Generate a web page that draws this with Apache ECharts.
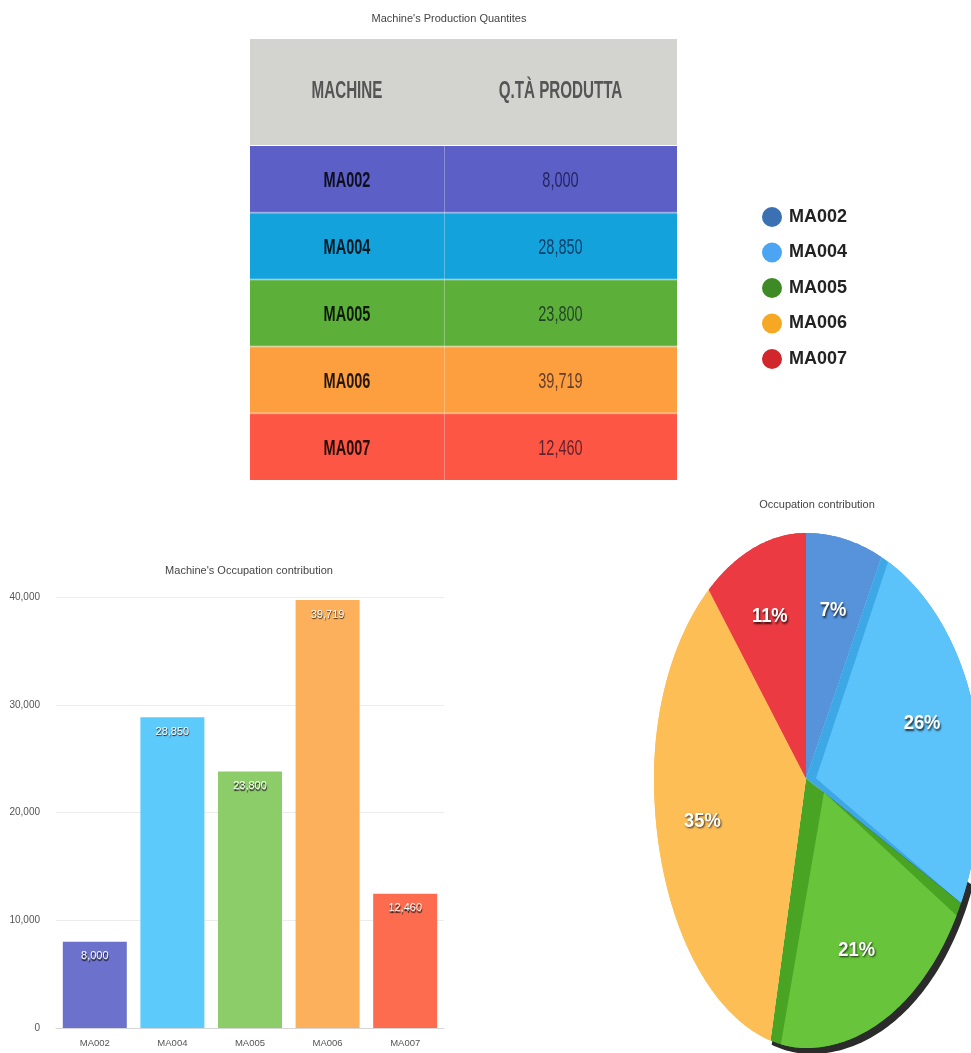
<!DOCTYPE html>
<html><head><meta charset="utf-8">
<script src="https://cdn.jsdelivr.net/npm/echarts@6/dist/echarts.min.js"></script>
<style>html,body{margin:0;padding:0;background:#fff;overflow:hidden}#c{width:971px;height:1053px}</style>
</head><body><div id="c"></div>
<script>
// ---------- data ----------
const machines = ['MA002', 'MA004', 'MA005', 'MA006', 'MA007'];
const quantities = [8000, 28850, 23800, 39719, 12460];
const tableHeaders = ['MACHINE', 'Q.TÀ PRODUTTA'];
const yTicks = [0, 10000, 20000, 30000, 40000];
const tableTitle = "Machine's Production Quantites";
const barTitle = "Machine's Occupation contribution";
const pieTitle = 'Occupation contribution';

// ---------- styles ----------
const tableRowColors = ['#5b5fc6', '#14a2dc', '#5cb03a', '#fd9e3f', '#fd5644'];
const barColors = ['#6c72cc', '#5dcafc', '#8dcd69', '#fdb05b', '#fd6c4e'];
const pieFace = ['#5793da', '#5cc3fa', '#68c43b', '#fdbe55', '#eb3a42'];
const pieSide = ['#5793da', '#3ea8e6', '#4aa424', '#fdbe55', '#eb3a42'];
const legendColors = ['#3b70b2', '#4ba5f2', '#3e8b26', '#f6a824', '#d1262b'];
const FONT = "'Liberation Sans',Arial,Helvetica,sans-serif";
const TABLE_SCALE_X = 0.66;
const colEdges = [0, 0.4543, 1];
const PIE = { rxRight: 1.15, ryBottom: 1.1, labelR: 0.7, step: Math.PI / 180, left: 654, top: 533, width: 317, height: 515, pxPerUnitX: 152 };
const sliceFaceShift = [[0, 0], [10, 0], [18, 14], [0, 0], [0, 0]];
const sliceInset = [[0, 0], [2.5, 0], [3, 4], [0, 0], [0, 0]];
const RIM = { from: 112, to: 195, dx: 5, dy: 6 };

const fmt = v => v.toLocaleString('en-US');
const total = quantities.reduce((a, b) => a + b, 0);
const cumStart = quantities.map((v, i) => quantities.slice(0, i).reduce((a, b) => a + b, 0));

function ellPt(t, r) {
  const s = Math.sin(t), c = Math.cos(t);
  return [r * s * (s > 0 ? PIE.rxRight : 1), r * c * (c > 0 ? 1 : PIE.ryBottom)];
}
function arcPts(api, a0, a1, dx, dy) {
  const pts = [];
  const n = Math.max(2, Math.ceil((a1 - a0) / PIE.step));
  for (let k = 0; k <= n; k++) {
    const p = api.coord(ellPt(a0 + (a1 - a0) * k / n, 1));
    pts.push([p[0] + (dx || 0), p[1] + (dy || 0)]);
  }
  return pts;
}
function renderSlice(params, api) {
  const i = api.value(0);
  const a0 = cumStart[i] / total * 2 * Math.PI;
  const a1 = (cumStart[i] + quantities[i]) / total * 2 * Math.PI;
  const c = api.coord([0, 0]);
  const sh = sliceFaceShift[i], ins = sliceInset[i];
  const side = [c].concat(arcPts(api, a0, a1));
  const face = [[c[0] + sh[0], c[1] + sh[1]]].concat(arcPts(api, a0 + ins[0] * Math.PI / 180, a1 - ins[1] * Math.PI / 180));
  const lp = api.coord(ellPt((a0 + a1) / 2, PIE.labelR));
  return { type: 'group', children: [
    { type: 'polygon', shape: { points: side }, style: { fill: pieSide[i] } },
    { type: 'polygon', shape: { points: face }, style: { fill: pieFace[i] } },
    { type: 'text', x: lp[0], y: lp[1], scaleX: 0.92, style: {
      text: Math.round(quantities[i] / total * 100) + '%', fill: '#fff',
      font: 'bold 20px ' + FONT,
      align: 'center', verticalAlign: 'middle', textAlign: 'center', textVerticalAlign: 'middle',
      textShadowColor: 'rgba(0,0,0,0.75)', textShadowBlur: 2, textShadowOffsetX: 1, textShadowOffsetY: 1.5 } }
  ] };
}
function renderRim(params, api) {
  const c = api.coord([0, 0]);
  const pts = [[c[0] + RIM.dx, c[1] + RIM.dy]].concat(arcPts(api, RIM.from * Math.PI / 180, RIM.to * Math.PI / 180, RIM.dx, RIM.dy));
  return { type: 'polygon', shape: { points: pts }, style: { fill: '#2b2b2b' } };
}
function cellBox(api) {
  const col = api.value(0), row = api.value(1);
  const yc = api.coord([0, row])[1];
  const h = api.size([0, 1])[1];
  const x0 = api.coord([colEdges[col], row])[0], x1 = api.coord([colEdges[col + 1], row])[0];
  return { col, row, x0, x1, y0: yc - h / 2, h, yc };
}
function cellText(x, y, text, fill, font) {
  return { type: 'text', x: x, y: y, scaleX: TABLE_SCALE_X, style: { text: text, fill: fill, font: font,
    align: 'center', verticalAlign: 'middle', textAlign: 'center', textVerticalAlign: 'middle' } };
}
function renderHeader(params, api) {
  const b = cellBox(api);
  return { type: 'group', children: [
    { type: 'rect', shape: { x: b.x0, y: b.y0, width: b.x1 - b.x0, height: b.h }, style: { fill: '#d3d3cf' } },
    cellText((b.x0 + b.x1) / 2, b.yc, tableHeaders[b.col], '#555', 'bold 23px ' + FONT)
  ] };
}
function renderBody(params, api) {
  const b = cellBox(api);
  const children = [
    { type: 'rect', shape: { x: b.x0, y: b.y0, width: b.x1 - b.x0, height: b.h }, style: { fill: tableRowColors[b.row] } }
  ];
  if (b.row > 0) children.push({ type: 'rect', shape: { x: b.x0, y: b.y0 - 1, width: b.x1 - b.x0, height: 2 }, style: { fill: 'rgba(255,255,255,0.35)' } });
  if (b.col > 0) children.push({ type: 'rect', shape: { x: b.x0, y: b.y0, width: 1, height: b.h }, style: { fill: 'rgba(255,255,255,0.3)' } });
  children.push(cellText((b.x0 + b.x1) / 2, b.yc + 2,
    b.col === 0 ? machines[b.row] : fmt(quantities[b.row]),
    b.col === 0 ? 'rgba(0,0,0,0.85)' : 'rgba(0,0,30,0.62)',
    (b.col === 0 ? 'bold 22px ' : '22px ') + FONT));
  return { type: 'group', children };
}

const headerData = tableHeaders.map((h, c) => [c, 0]);
const bodyData = [];
machines.forEach((m, r) => { bodyData.push([0, r]); bodyData.push([1, r]); });

const titleStyle = { fontSize: 11, fontWeight: 'normal', color: '#444', fontFamily: FONT };
const chart = echarts.init(document.getElementById('c'), null, { renderer: 'canvas' });
chart.setOption({
  animation: false,
  backgroundColor: '#fff',
  title: [
    { text: tableTitle, left: 444, top: 8, textAlign: 'center', textStyle: titleStyle },
    { text: barTitle, left: 244, top: 560, textAlign: 'center', textStyle: titleStyle },
    { text: pieTitle, left: 812, top: 494, textAlign: 'center', textStyle: titleStyle }
  ],
  legend: {
    data: machines.map((m, i) => ({ name: m, itemStyle: { color: legendColors[i] } })),
    orient: 'vertical', left: 757, top: 202, icon: 'circle', itemWidth: 20, itemHeight: 20, itemGap: 15.5,
    selectedMode: false,
    textStyle: { fontSize: 18, fontWeight: 'bold', color: '#222', fontFamily: FONT, padding: [0, 0, 0, 2] }
  },
  grid: [
    { left: 250, top: 39, width: 427, height: 106 },
    { left: 250, top: 146, width: 427, height: 334 },
    { left: 56, top: 597, width: 388, height: 431 },
    { left: PIE.left, top: PIE.top, width: PIE.width, height: PIE.height }
  ],
  xAxis: [
    { gridIndex: 0, type: 'value', min: 0, max: 1, show: false },
    { gridIndex: 1, type: 'value', min: 0, max: 1, show: false },
    { gridIndex: 2, type: 'category', data: machines,
      axisLine: { lineStyle: { color: '#d6d6d6' } }, axisTick: { show: false },
      axisLabel: { fontSize: 9.5, color: '#555', fontFamily: FONT, margin: 10 } },
    { gridIndex: 3, type: 'value', min: -1, max: PIE.width / PIE.pxPerUnitX - 1, show: false }
  ],
  yAxis: [
    { gridIndex: 0, type: 'category', data: ['header'], show: false },
    { gridIndex: 1, type: 'category', data: machines, inverse: true, show: false },
    { gridIndex: 2, type: 'value', min: yTicks[0], max: yTicks[yTicks.length - 1], interval: yTicks[1] - yTicks[0],
      axisLine: { show: false }, axisTick: { show: false },
      splitLine: { lineStyle: { color: '#ececec' } },
      axisLabel: { fontSize: 10, color: '#555', fontFamily: FONT, margin: 16, formatter: v => fmt(v) } },
    { gridIndex: 3, type: 'value', min: -PIE.ryBottom, max: 1, show: false }
  ],
  series: [
    { type: 'custom', name: 'header', xAxisIndex: 0, yAxisIndex: 0, data: headerData, renderItem: renderHeader, silent: true },
    { type: 'custom', name: 'body', xAxisIndex: 1, yAxisIndex: 1, data: bodyData, renderItem: renderBody, silent: true },
    { type: 'bar', name: 'Q.tà prodotta', xAxisIndex: 2, yAxisIndex: 2, barWidth: 64,
      data: quantities.map((v, i) => ({ value: v, itemStyle: { color: barColors[i] } })),
      label: { show: true, position: 'insideTop', distance: 9, formatter: p => fmt(p.value), color: '#fff',
        fontSize: 11, fontFamily: FONT, textShadowColor: 'rgba(0,0,0,0.85)', textShadowBlur: 1, textShadowOffsetX: 0.5, textShadowOffsetY: 1.5 } },
    { type: 'custom', name: 'rim', xAxisIndex: 3, yAxisIndex: 3, data: [[0]], renderItem: renderRim, z: 1, silent: true, clip: false }
  ].concat(machines.map((m, i) => ({
    type: 'custom', name: m, xAxisIndex: 3, yAxisIndex: 3, data: [[i]], renderItem: renderSlice, z: 2, clip: false,
    itemStyle: { color: legendColors[i] }
  })))
});
</script></body></html>
